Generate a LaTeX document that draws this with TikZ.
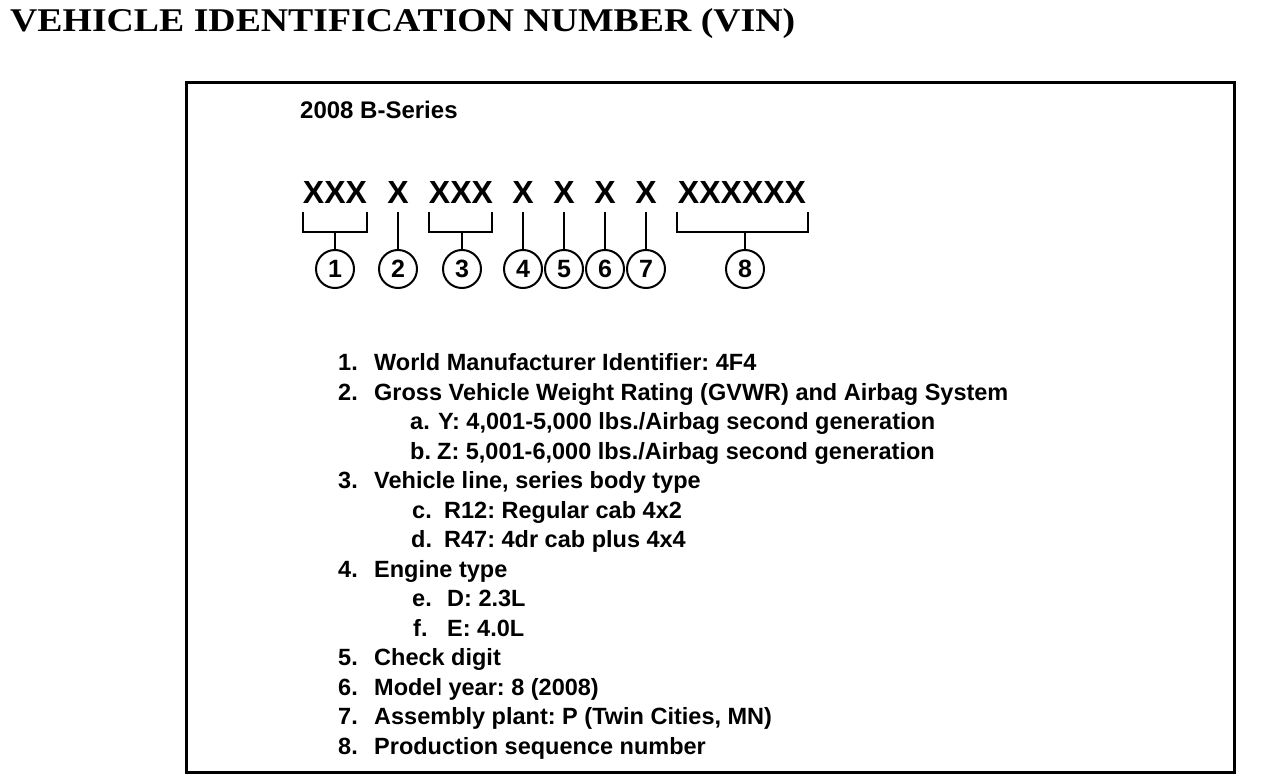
\documentclass[tikz,border=0pt]{standalone}
\usepackage{fontspec}
\setmainfont{Liberation Sans}
\newfontfamily\titlefont{Liberation Serif}
\frenchspacing
\begin{document}
\begin{tikzpicture}[x=1pt,y=-1pt,
  lst/.style={anchor=base west,inner sep=0pt,font=\fontsize{23.5}{24}\selectfont\bfseries},
  vin/.style={anchor=base,inner sep=0pt,font=\fontsize{32}{32}\selectfont\bfseries},
  num/.style={circle,draw,line width=2pt,minimum size=38pt,inner sep=0pt,font=\fontsize{25}{25}\selectfont\bfseries},
  brk/.style={line width=2pt},
  frame/.style={draw,line width=3pt,inner sep=0pt,anchor=north west}]
\path[use as bounding box] (0,0) rectangle (1264,784);
\node[anchor=base west,inner sep=0pt] (title) at (10,31)
  {\resizebox{785pt}{23pt}{\titlefont\bfseries VEHICLE IDENTIFICATION NUMBER (VIN)}};
\node[frame,minimum width=1048pt,minimum height=690pt] (box) at (185,81) {};
\node[lst,font=\fontsize{24}{24}\selectfont\bfseries] (series) at (300,118) {2008 B-Series};
% VIN groups
\node[vin] (g1) at (335,203) {XXX};
\node[vin] (g2) at (398,203) {X};
\node[vin] (g3) at (461,203) {XXX};
\node[vin] (g4) at (523,203) {X};
\node[vin] (g5) at (564,203) {X};
\node[vin] (g6) at (605,203) {X};
\node[vin] (g7) at (646,203) {X};
\node[vin] (g8) at (742,203) {XXXXXX};
% circles
\node[num] (c1) at (335,269) {1};
\node[num] (c2) at (398,269) {2};
\node[num] (c3) at (462,269) {3};
\node[num] (c4) at (523,269) {4};
\node[num] (c5) at (564,269) {5};
\node[num] (c6) at (605,269) {6};
\node[num] (c7) at (646,269) {7};
\node[num] (c8) at (745,269) {8};
% bracket coordinates
\coordinate (b1) at (335,232); \coordinate (b3) at (462,232); \coordinate (b8) at (745,232);
\coordinate (t2) at (398,212); \coordinate (t4) at (523,212); \coordinate (t5) at (564,212);
\coordinate (t6) at (605,212); \coordinate (t7) at (646,212);
\draw[brk] (303,212) -- (303,232) -- (367,232) -- (367,212);
\draw[brk] (429,212) -- (429,232) -- (492,232) -- (492,212);
\draw[brk] (677,212) -- (677,232) -- (808,232) -- (808,212);
\draw[brk] (c1) -- (b1);
\draw[brk] (c3) -- (b3);
\draw[brk] (c8) -- (b8);
\draw[brk] (c2) -- (t2);
\draw[brk] (c4) -- (t4);
\draw[brk] (c5) -- (t5);
\draw[brk] (c6) -- (t6);
\draw[brk] (c7) -- (t7);
% list
\node[lst] (n1) at (338,370.5) {1.}; \node[lst] (i1) at (374,370.5) {World Manufacturer Identifier: 4F4};
\node[lst] (n2) at (338,400) {2.}; \node[lst] (i2) at (374,400) {Gross Vehicle Weight Rating (GVWR) and Airbag System};
\node[lst] (na) at (410,429.5) {a.}; \node[lst] (ia) at (438,429.5) {Y: 4,001-5,000 lbs./Airbag second generation};
\node[lst] (nb) at (410,459) {b.}; \node[lst] (ib) at (437,459) {Z: 5,001-6,000 lbs./Airbag second generation};
\node[lst] (n3) at (338,488.5) {3.}; \node[lst] (i3) at (374,488.5) {Vehicle line, series body type};
\node[lst] (nc) at (412,518) {c.}; \node[lst] (ic) at (444,518) {R12: Regular cab 4x2};
\node[lst] (nd) at (411,547.5) {d.}; \node[lst] (id) at (444,547.5) {R47: 4dr cab plus 4x4};
\node[lst] (n4) at (338,577) {4.}; \node[lst] (i4) at (374,577) {Engine type};
\node[lst] (ne) at (412,606.5) {e.}; \node[lst] (ie) at (447,606.5) {D: 2.3L};
\node[lst] (nf) at (413,636) {f.}; \node[lst] (if) at (447,636) {E: 4.0L};
\node[lst] (n5) at (338,665.5) {5.}; \node[lst] (i5) at (374,665.5) {Check digit};
\node[lst] (n6) at (338,695) {6.}; \node[lst] (i6) at (374,695) {Model year: 8 (2008)};
\node[lst] (n7) at (338,724.5) {7.}; \node[lst] (i7) at (374,724.5) {Assembly plant: P (Twin Cities, MN)};
\node[lst] (n8) at (338,754) {8.}; \node[lst] (i8) at (374,754) {Production sequence number};
\end{tikzpicture}
\end{document}
